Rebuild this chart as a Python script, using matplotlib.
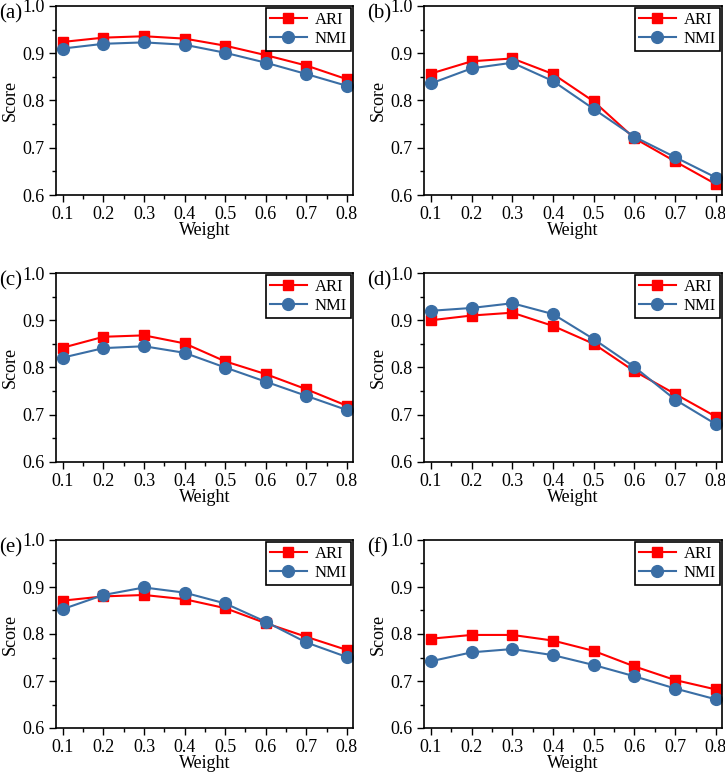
import matplotlib
matplotlib.use("Agg")
import matplotlib.pyplot as plt
from matplotlib.ticker import MultipleLocator

plt.rcParams["font.family"] = ["Liberation Serif", "DejaVu Serif"]

weights = [0.1, 0.2, 0.3, 0.4, 0.5, 0.6, 0.7, 0.8]
panel_labels = ["(a)", "(b)", "(c)", "(d)", "(e)", "(f)"]

# ARI / NMI per panel
ari_a = [0.924, 0.933, 0.936, 0.931, 0.916, 0.896, 0.874, 0.845]
nmi_a = [0.910, 0.920, 0.923, 0.918, 0.901, 0.880, 0.856, 0.831]
ari_b = [0.857, 0.883, 0.889, 0.856, 0.798, 0.720, 0.671, 0.623]
nmi_b = [0.836, 0.868, 0.880, 0.841, 0.782, 0.723, 0.680, 0.637]
ari_c = [0.842, 0.865, 0.868, 0.851, 0.813, 0.786, 0.754, 0.719]
nmi_c = [0.821, 0.841, 0.845, 0.831, 0.800, 0.770, 0.740, 0.710]
ari_d = [0.900, 0.910, 0.916, 0.888, 0.850, 0.792, 0.744, 0.696]
nmi_d = [0.920, 0.926, 0.936, 0.913, 0.860, 0.801, 0.732, 0.680]
ari_e = [0.871, 0.880, 0.883, 0.874, 0.855, 0.823, 0.794, 0.766]
nmi_e = [0.853, 0.883, 0.899, 0.888, 0.865, 0.826, 0.782, 0.751]
ari_f = [0.790, 0.798, 0.798, 0.786, 0.764, 0.731, 0.702, 0.682]
nmi_f = [0.742, 0.761, 0.768, 0.755, 0.734, 0.710, 0.684, 0.661]

ari_all = [ari_a, ari_b, ari_c, ari_d, ari_e, ari_f]
nmi_all = [nmi_a, nmi_b, nmi_c, nmi_d, nmi_e, nmi_f]

W, H = 725, 776
fig = plt.figure(figsize=(W / 100, H / 100), dpi=100)

# axes boxes in pixels: (left, top, right, bottom)
lefts = [56, 424]
rights = [353, 722]
tops = [6, 273, 540]
bottoms = [195, 462, 728]

red = "#FF0000"
blue = "#3A6EA5"

for i in range(6):
    r, c = divmod(i, 2)
    l, rt = lefts[c], rights[c]
    t, b = tops[r], bottoms[r]
    ax = fig.add_axes([l / W, 1 - b / H, (rt - l) / W, (b - t) / H])

    ax.plot(weights, ari_all[i], color=red, marker="s", markersize=7.5,
            linewidth=1.5, label="ARI")
    ax.plot(weights, nmi_all[i], color=blue, marker="o", markersize=8.5,
            linewidth=1.5, label="NMI")

    ax.set_xlim(0.083, 0.815)
    ax.set_ylim(0.6, 1.0)
    ax.xaxis.set_major_locator(MultipleLocator(0.1))
    ax.xaxis.set_minor_locator(MultipleLocator(0.05))
    ax.yaxis.set_major_locator(MultipleLocator(0.1))
    ax.yaxis.set_minor_locator(MultipleLocator(0.05))
    ax.set_xticks(weights)
    ax.set_xticklabels([f"{w:.1f}" for w in weights])
    ax.tick_params(which="major", direction="out", length=5, width=1,
                   labelsize=13, top=False, right=False, pad=3)
    ax.tick_params(which="minor", direction="out", length=3, width=1,
                   top=False, right=False)
    for s in ax.spines.values():
        s.set_linewidth(1.2)

    ax.set_xlabel("Weight", fontsize=13, labelpad=-1)
    ax.set_ylabel("Score", fontsize=13, labelpad=3)

    leg = ax.legend(loc="upper right", fontsize=12, fancybox=False,
                    framealpha=1, edgecolor="black", borderaxespad=0.1,
                    handlelength=2.2, borderpad=0.25, labelspacing=0.2,
                    handletextpad=0.5)
    leg.get_frame().set_linewidth(1.2)

    ax.text(-0.19, 1.01, panel_labels[i], transform=ax.transAxes,
            fontsize=15, ha="left", va="top")

fig.savefig("out.png", dpi=100)
